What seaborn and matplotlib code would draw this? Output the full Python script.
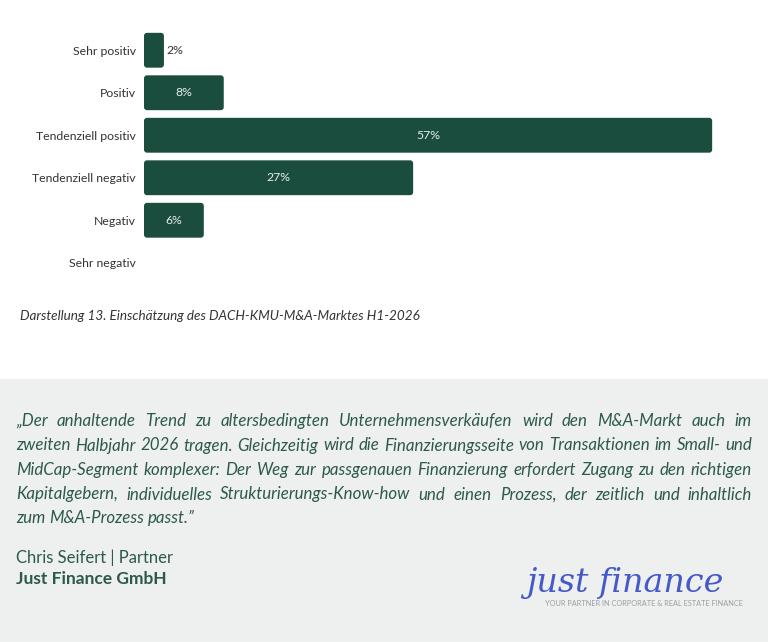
import numpy as np
import pandas as pd
import matplotlib
matplotlib.use("Agg")
import matplotlib.pyplot as plt
import seaborn as sns
from matplotlib.patches import FancyBboxPatch, Rectangle

categories = ["Sehr positiv", "Positiv", "Tendenziell positiv",
              "Tendenziell negativ", "Negativ", "Sehr negativ"]
values = [2, 8, 57, 27, 6, 0]

caption = "Darstellung 13. Einschätzung des DACH-KMU-M&A-Marktes H1-2026"
quote_lines = [
    "„Der anhaltende Trend zu altersbedingten Unternehmensverkäufen wird den M&A-Markt auch im",
    "zweiten Halbjahr 2026 tragen. Gleichzeitig wird die Finanzierungsseite von Transaktionen im Small- und",
    "MidCap-Segment komplexer: Der Weg zur passgenauen Finanzierung erfordert Zugang zu den richtigen",
    "Kapitalgebern, individuelles Strukturierungs-Know-how und einen Prozess, der zeitlich und inhaltlich",
    "zum M&A-Prozess passt.”",
]
author = "Chris Seifert | Partner"
company = "Just Finance GmbH"
logo_text = "just finance"
logo_tagline = "YOUR PARTNER IN CORPORATE & REAL ESTATE FINANCE"

BAR = "#1a4d3e"
QUOTE = "#2d5a48"
LABEL = "#333333"
BOX = "#edf0ee"

sns.set_theme(style="white")
plt.rcParams["font.family"] = ["Lato", "DejaVu Sans"]

W, H = 768, 642
fig = plt.figure(figsize=(W / 100, H / 100), dpi=100)
fig.patch.set_facecolor("white")

def fx(px):
    return px / W

def fy(py):
    return 1 - py / H

# grey quote box
fig.patches.append(Rectangle((0, 0), 1, fy(379), transform=fig.transFigure,
                             facecolor=BOX, edgecolor="none", zorder=0))

ax = fig.add_axes([fx(144), fy(284), fx(762) - fx(144), fy(29) - fy(284)])
df = pd.DataFrame({"cat": categories, "val": values})
sns.barplot(data=df, x="val", y="cat", color=BAR, width=0.82, ax=ax,
            saturation=1, orient="h")
ax.set_xlim(0, 62)
ax.set_ylim(5.5, -0.5)
ax.set_xlabel("")
ax.set_ylabel("")
ax.set_xticks([])
for s in ax.spines.values():
    s.set_visible(False)
ax.tick_params(axis="y", length=0, pad=6, labelsize=8.8, labelcolor=LABEL)

# round the bar corners
px_per_x = (762 - 144) / 62
px_per_y = (284 - 29) / 6
r = 3 / px_per_x
asp = px_per_x / px_per_y
for p in list(ax.patches):
    x, y, w, h = p.get_x(), p.get_y(), p.get_width(), p.get_height()
    p.remove()
    if w <= 0:
        continue
    ax.add_patch(FancyBboxPatch((x, y), w, h,
                                boxstyle=f"round,pad=0,rounding_size={r}",
                                mutation_aspect=asp, facecolor=BAR,
                                edgecolor="none"))

for i, v in enumerate(values):
    if v <= 0:
        continue
    if v < 4:
        ax.text(v + 0.3, i, f"{v}%", va="center", ha="left",
                fontsize=8.8, color=LABEL)
    else:
        ax.text(v / 2, i, f"{v}%", va="center", ha="center",
                fontsize=8.8, color="#e8efe9")

fig.text(fx(20), fy(316), caption, fontsize=9.7, style="italic",
         color=LABEL, va="center", ha="left")

# justified quote
renderer = fig.canvas.get_renderer()
qsize = 12.2
baselines = [426, 450.5, 475, 499.5, 523]
x0, x1 = 16, 752
for li, line in enumerate(quote_lines):
    words = line.split(" ")
    texts = [fig.text(0, fy(baselines[li]), w, fontsize=qsize, style="italic",
                      color=QUOTE, va="baseline", ha="left") for w in words]
    widths = [t.get_window_extent(renderer).width for t in texts]
    if li < len(quote_lines) - 1:
        gap = (x1 - x0 - sum(widths)) / (len(words) - 1)
    else:
        gap = qsize * 1.389 * 0.24
    cx = x0
    for t, wd in zip(texts, widths):
        t.set_x(fx(cx))
        cx += wd + gap

fig.text(fx(16), fy(558), author, fontsize=12, color=QUOTE,
         va="center", ha="left")
fig.text(fx(16), fy(579), company, fontsize=12.5, color=QUOTE,
         fontweight="bold", va="center", ha="left")

# logo
fig.text(fx(625), fy(583), logo_text, fontsize=24, style="italic",
         color="#3448c6", va="center", ha="center",
         family=["DejaVu Serif"], alpha=0.9)
fig.text(fx(644), fy(604), logo_tagline, fontsize=5.3, color="#9a9fa6",
         va="center", ha="center")

fig.savefig("out.png", dpi=100, facecolor=fig.get_facecolor())
